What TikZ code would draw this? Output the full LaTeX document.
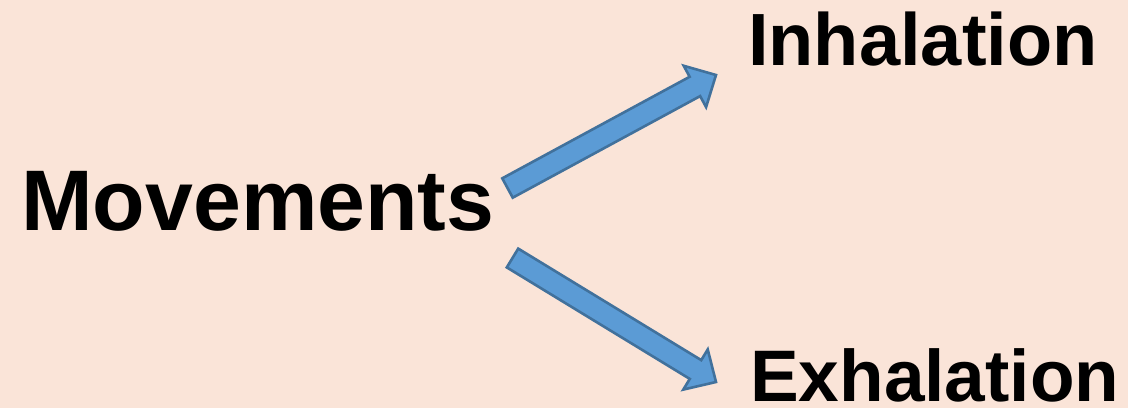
\documentclass[tikz,border=0pt]{standalone}
\usepackage{fontspec}
\setmainfont{Liberation Sans}
\usetikzlibrary{calc}
\definecolor{bgpeach}{RGB}{250,228,216}
\definecolor{arrowfill}{RGB}{91,155,213}
\definecolor{arrowline}{RGB}{65,113,156}
\tikzset{
  label/.style={inner sep=0pt, font=\bfseries, text=black},
  blockarrow/.style={fill=arrowfill, draw=arrowline, line width=2.6pt, line join=miter},
}
% block arrow from #1 (middle of the tail) to #2 (tip)
\newcommand{\blockarrow}[2]{%
  \draw[blockarrow]
    ($(#1)!11pt!90:(#2)$) --
    ($(#2)!24pt!(#1)!11pt!-90:(#1)$) --
    ($(#2)!24pt!(#1)!23.5pt!-90:(#1)$) --
    (#2) --
    ($(#2)!24pt!(#1)!23.5pt!90:(#1)$) --
    ($(#2)!24pt!(#1)!11pt!90:(#1)$) --
    ($(#1)!11pt!-90:(#2)$) -- cycle;}
\begin{document}
\begin{tikzpicture}[x=1pt, y=-1pt]
  \fill[bgpeach] (0,0) rectangle (1128,408);
  \useasboundingbox (0,0) rectangle (1128,408);

  \node[label, anchor=base west, font=\bfseries\fontsize{86}{96}\selectfont] (mov) at (21,230) {Movements};
  \node[label, anchor=base west, font=\bfseries\fontsize{74}{82}\selectfont] (inh) at (748,65) {Inhalation};
  \node[label, anchor=base west, font=\bfseries\fontsize{73}{82}\selectfont] (exh) at (750,401) {Exhalation};

  \coordinate (upS) at (507.5,188);
  \coordinate (upE) at (716,75);
  \coordinate (dnS) at (512.5,258);
  \coordinate (dnE) at (716,382);

  \blockarrow{upS}{upE}
  \blockarrow{dnS}{dnE}
\end{tikzpicture}
\end{document}
